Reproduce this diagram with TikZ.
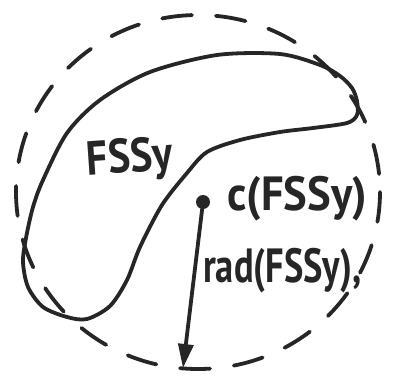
\documentclass[tikz,border=0pt]{standalone}
\usepackage{fontspec}
\setmainfont{PT Sans}
\usetikzlibrary{arrows.meta}
\tikzset{
  hand/.style={line width=3.8pt, line cap=round, line join=round, black!85},
  dashcircle/.style={hand, dash pattern=on 30pt off 24pt},
  lbl/.style={inner sep=0pt, font=\fontsize{48}{48}\selectfont\bfseries, text=black!85},
  dot/.style={circle, fill=black!85, inner sep=0pt, minimum size=14pt}
}
\begin{document}
\begin{tikzpicture}[x=1pt,y=-1pt]
\useasboundingbox (0,0) rectangle (393,376);
% dashed enclosing circle
\draw[dashcircle] (198,192) ellipse [x radius=182, y radius=177];
% the set outline
\draw[hand] plot[smooth cycle, tension=0.5] coordinates {
  (23,262) (26,238) (33,207) (43,180) (67,133) (100,100) (150,72)
  (217,55) (280,54) (320,65) (340,76) (352,88) (357,101) (357,115)
  (347,123) (313,128) (280,132) (240,140) (207,152) (187,173)
  (162,205) (140,247) (127,280) (110,306) (87,319) (67,317) (43,307)
  (28,287)};
% labels
\node[lbl, rotate=4, xscale=0.88] (fss) at (130,160) {FSSy};
\node[dot] (c) at (203,202) {};
\node[lbl, xscale=0.93, anchor=west] (cl) at (227,199) {c(FSSy)};
\node[lbl, xscale=0.76, anchor=west] (rl) at (203,271) {rad(FSSy),};
\coordinate (e) at (183,368);
\draw[hand, -{Triangle[length=24pt, width=15pt]}] (c) -- (e);
\end{tikzpicture}
\end{document}
